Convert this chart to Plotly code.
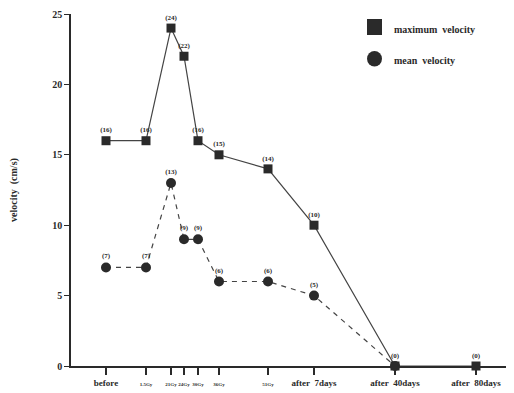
import plotly.graph_objects as go

categories = ["before", "1.5Gy", "21Gy", "24Gy", "30Gy", "36Gy", "51Gy",
              "after  7days", "after  40days", "after  80days"]
max_velocity = [16, 16, 24, 22, 16, 15, 14, 10, 0, 0]
mean_velocity = [7, 7, 13, 9, 9, 6, 6, 5, 0, None]
max_labels = ["(16)", "(16)", "(24)", "(22)", "(16)", "(15)", "(14)", "(10)", "(0)", "(0)"]
mean_labels = ["(7)", "(7)", "(13)", "(9)", "(9)", "(6)", "(6)", "(5)", "", ""]
y_ticks = [0, 5, 10, 15, 20, 25]

# schematic (non-uniform) horizontal placement of the categories
x_pos = [35, 75, 100, 113, 127, 148, 197, 243, 324, 405]
small = {"1.5Gy", "21Gy", "24Gy", "30Gy", "36Gy", "51Gy"}
tick_text = [f"<span style='font-size:5px'><b>{c}</b></span>" if c in small else f"<b>{c}</b>"
             for c in categories]
y_tick_text = [f"<b>{v}</b>" for v in y_ticks]

SERIF = "Liberation Serif"
INK = "#2a2a2a"

# page body has an 8px margin; figure sits at (8, 8)
OX, OY = 8, 8
W, H = 506, 385
L, R, T, B = 63, 0, 6, 27
PW, PH = W - L - R, H - T - B

def px(x):  # page pixel -> paper
    return (x - OX - L) / PW

def py(y):
    return (OY + H - B - y) / PH

fig = go.Figure()
fig.add_trace(go.Scatter(
    x=x_pos, y=max_velocity, mode="lines+markers+text",
    line=dict(color="#444", width=1.2),
    marker=dict(symbol="square", size=9, color=INK),
    text=[f"<b>{t}</b>" for t in max_labels], textposition="top center",
    textfont=dict(family=SERIF, size=7, color=INK),
    cliponaxis=False, showlegend=False))
fig.add_trace(go.Scatter(
    x=x_pos, y=mean_velocity, mode="lines+markers+text",
    line=dict(color="#444", width=1.2, dash="5px,5px"),
    marker=dict(symbol="circle", size=10, color=INK),
    text=[f"<b>{t}</b>" if t else "" for t in mean_labels], textposition="top center",
    textfont=dict(family=SERIF, size=7, color=INK),
    cliponaxis=False, showlegend=False, connectgaps=False))

shapes = [
    dict(type="rect", xref="paper", yref="paper",
         x0=px(367), x1=px(382), y0=py(35), y1=py(19),
         fillcolor=INK, line=dict(width=0)),
    dict(type="circle", xref="paper", yref="paper",
         x0=px(367), x1=px(382), y0=py(66.5), y1=py(51),
         fillcolor=INK, line=dict(width=0)),
]
annotations = [
    dict(xref="paper", yref="paper", x=px(392), y=py(30), xanchor="left", yanchor="middle",
         text="<b>maximum  velocity</b>", showarrow=False,
         font=dict(family=SERIF, size=10, color=INK)),
    dict(xref="paper", yref="paper", x=px(392), y=py(60), xanchor="left", yanchor="middle",
         text="<b>mean  velocity</b>", showarrow=False,
         font=dict(family=SERIF, size=10, color=INK)),
    dict(xref="paper", yref="paper", x=px(14), y=py(190), xanchor="center", yanchor="middle",
         text="<b>velocity  (cm/s)</b>", textangle=-90, showarrow=False,
         font=dict(family=SERIF, size=10, color=INK)),
]

fig.update_layout(
    width=W, height=H, margin=dict(l=L, r=R, t=T, b=B),
    paper_bgcolor="white", plot_bgcolor="white",
    shapes=shapes, annotations=annotations,
    xaxis=dict(range=[0, PW], tickmode="array", tickvals=x_pos, ticktext=tick_text,
               tickangle=0, automargin=False,
               ticks="outside", ticklen=7, tickwidth=1.5, tickcolor=INK,
               showline=True, linecolor=INK, linewidth=2, showgrid=False, zeroline=False,
               tickfont=dict(family=SERIF, size=9, color=INK)),
    yaxis=dict(range=[0, 25], tickmode="array", tickvals=y_ticks, ticktext=y_tick_text,
               automargin=False,
               ticks="outside", ticklen=5, tickwidth=1.2, tickcolor=INK,
               showline=True, linecolor=INK, linewidth=1.5, showgrid=False, zeroline=False,
               tickfont=dict(family=SERIF, size=10, color=INK)),
)

fig.write_html("out.html")
